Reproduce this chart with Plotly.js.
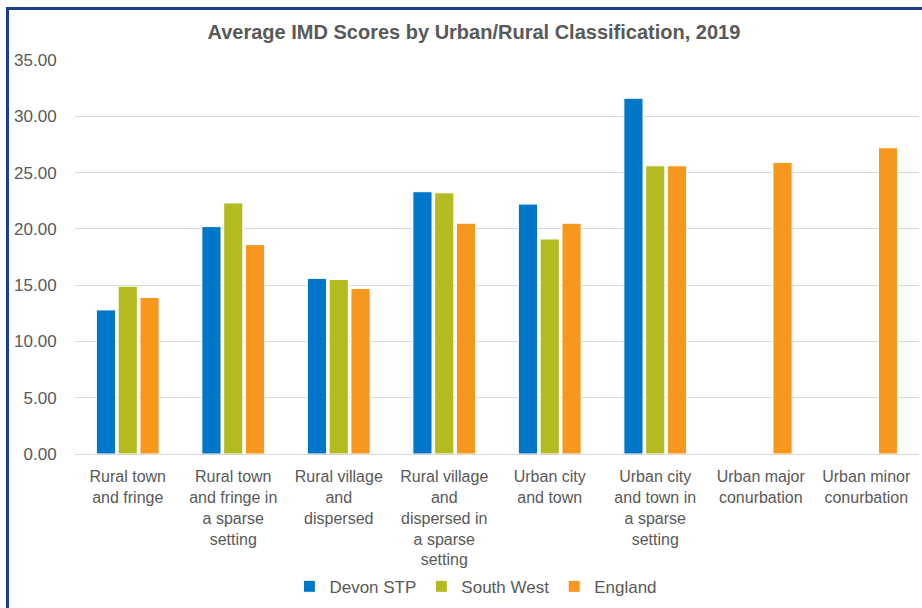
<!DOCTYPE html>
<html>
<head>
<meta charset="utf-8">
<script src="https://cdn.plot.ly/plotly-3.0.1.min.js"></script>
<style>
  body { margin: 0; background: white; }
  #chart { width: 922px; height: 608px; }
  #frame { position: absolute; left: 6px; top: 7px; width: 1000px; height: 700px;
           border-left: 3px solid #1c3f94; border-top: 3px solid #1c3f94; pointer-events: none; }
</style>
</head>
<body>
<div id="chart"></div>
<div id="frame"></div>
<script>
chart = document.getElementById("chart")

// categories (line breaks as in the original labels)
let categories = [
    "Rural town<br>and fringe",
    "Rural town<br>and fringe in<br>a sparse<br>setting",
    "Rural village<br>and<br>dispersed",
    "Rural village<br>and<br>dispersed in<br>a sparse<br>setting",
    "Urban city<br>and town",
    "Urban city<br>and town in<br>a sparse<br>setting",
    "Urban major<br>conurbation",
    "Urban minor<br>conurbation"
];

let devon = [12.8, 20.2, 15.6, 23.3, 22.2, 31.6, null, null];
let southWest = [14.9, 22.3, 15.5, 23.2, 19.1, 25.6, null, null];
let england = [13.9, 18.6, 14.7, 20.5, 20.5, 25.6, 25.9, 27.2];

let yTicks = [0, 5, 10, 15, 20, 25, 30, 35];

function series(name, values, colour) {
    return {
        x: categories,
        y: values,
        type: 'bar',
        name: name,
        marker: { color: colour, line: { color: 'white', width: 1 } }
    };
}

var datas = [
    series("Devon STP", devon, '#0077c8'),
    series("South West", southWest, '#b3bb21'),
    series("England", england, '#f7971e')
];

let layout = {
    width: 922,
    height: 608,
    font: { family: 'Liberation Sans, Arial, sans-serif', size: 16, color: '#595959' },
    paper_bgcolor: 'white',
    plot_bgcolor: 'white',
    title: {
        text: '<b>Average IMD Scores by Urban/Rural Classification, 2019</b>',
        font: { size: 20, color: '#595959' },
        x: 0.514, xanchor: 'center',
        y: 0.948, yanchor: 'middle'
    },
    margin: { l: 75, r: 3, t: 60, b: 152 },
    bargap: 0.38,
    bargroupgap: 0.12,
    showlegend: true,
    legend: {
        orientation: 'h',
        x: 0.475, xanchor: 'center',
        y: -0.337, yanchor: 'middle',
        bgcolor: 'rgba(0,0,0,0)',
        itemwidth: 30,
        font: { size: 17, color: '#595959' }
    },
    xaxis: {
        showline: true,
        linecolor: '#d9d9d9',
        linewidth: 1,
        ticks: 'outside',
        ticklen: 8,
        tickcolor: 'white',
        tickfont: { size: 16, color: '#595959' }
    },
    yaxis: {
        range: [0, 35],
        tickvals: yTicks,
        tickformat: '.2f',
        gridcolor: '#d9d9d9',
        zeroline: false,
        tickfont: { size: 17, color: '#595959' },
        ticks: 'outside',
        ticklen: 14,
        tickcolor: 'white'
    }
}

let config = { displayModeBar: false }
Plotly.newPlot(chart, datas, layout, config);
</script>
</body>
</html>
